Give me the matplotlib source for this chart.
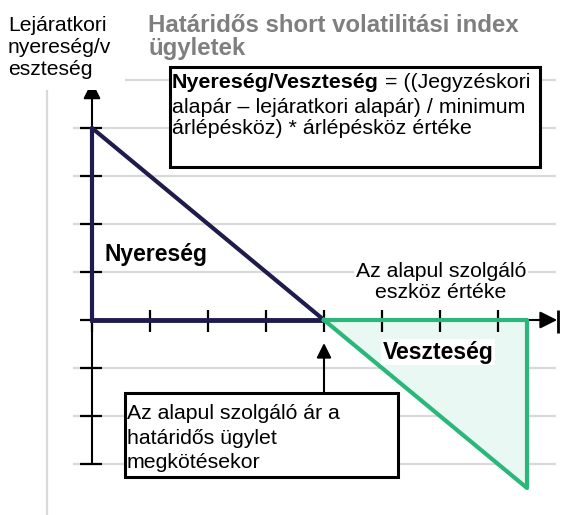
import matplotlib
matplotlib.use('Agg')
import matplotlib.pyplot as plt
from matplotlib.patches import Rectangle

plt.rcParams['font.family'] = ['Liberation Sans', 'DejaVu Sans']

## Diagram data (units = tick steps)
x_ticks = [0, 1, 2, 3, 4, 5, 6, 7]
y_ticks = [4, 3, 2, 1, 0, -1, -2, -3]
grid_y = [5, 4, 3, 2, 1, -1, -2, -3]
profit_x = [0, 4]
profit_y = [4, 0]
loss_x = [4, 7.5]
loss_y = [0, -3.5]

title_lines = "Határidős short volatilitási index\nügyletek"
ylabel_text = "Lejáratkori\nnyereség/v\neszteség"
xlabel_text = "Az alapul szolgáló\neszköz értéke"
formula_bold = "Nyereség/Veszteség"
formula_rest = " = ((Jegyzéskori"
formula_more = "alapár – lejáratkori alapár) / minimum\nárlépésköz) * árlépésköz értéke"
entry_text = "Az alapul szolgáló ár a\nhatáridős ügylet\nmegkötésekor"

navy = '#1f1b4d'
green = '#2bb77a'
mint = '#e9f8f2'
grid_c = '#d9d9d9'

W, H = 567, 515
fig = plt.figure(figsize=(W / 100, H / 100), dpi=100)
ax = fig.add_axes([0, 0, 1, 1])
ax.axis('off')
# origin at pixel (92, 320), 58 px per x step, 48 px per y step
ax.set_xlim(-92 / 58, (W - 92) / 58)
ax.set_ylim(-(H - 320) / 48, 320 / 48)


def fp(px, py):
    # pixel (top-left origin) -> figure fraction
    return px / W, 1 - py / H


# grid + left frame line
ax.hlines(grid_y, -0.33, 8.0, color=grid_c, lw=1.6, zorder=1)
ax.vlines(-0.78, -4.1, 4.85, color=grid_c, lw=1.6, zorder=1)
fig.patches.append(Rectangle(fp(0, 90), 125 / W, 90 / H, transform=fig.transFigure,
                             facecolor='white', edgecolor='none', zorder=1.5))

# loss area
ax.fill([loss_x[0], loss_x[1], loss_x[1]], [loss_y[0], loss_y[0], loss_y[1]],
        color=mint, zorder=2, lw=0)

# axes with arrows
arrow_kw = dict(arrowstyle='-|>', color='black', lw=1.5, mutation_scale=26,
                shrinkA=0, shrinkB=0)
ax.annotate('', xy=(0, 4.97), xytext=(0, -3), zorder=3, arrowprops=arrow_kw)
ax.annotate('', xy=(8.02, 0), xytext=(7.5, 0), zorder=3, arrowprops=arrow_kw)
ax.vlines(8.04, -0.27, 0.21, color='black', lw=2, zorder=3)

# tick marks
ax.hlines(y_ticks, -0.21, 0.17, color='black', lw=1.6, zorder=3)
ax.vlines(x_ticks, -0.25, 0.21, color='black', lw=1.6, zorder=3)

# payoff lines
ax.plot([0, 0], [0, profit_y[0]], color=navy, lw=3, zorder=4, solid_capstyle='butt')
ax.plot([0, profit_x[1]], [0, 0], color=navy, lw=3.5, zorder=4)
ax.plot(profit_x, profit_y, color=navy, lw=3, zorder=4)
ax.plot([loss_x[0], loss_x[1], loss_x[1], loss_x[0]],
        [loss_y[0], loss_y[0], loss_y[1], loss_y[0]], color=green, lw=3, zorder=4)

# entry price arrow
ax.annotate('', xy=(4.0, -0.48), xytext=(4.0, -1.52), zorder=3,
            arrowprops=dict(arrowstyle='-|>', color='black', lw=1.5,
                            mutation_scale=22, shrinkA=0, shrinkB=0))

# texts
fig.text(*fp(148, 14), title_lines, color='#7f7f7f', fontsize=17.3, fontweight='bold',
         va='top', ha='left', linespacing=1.0)
fig.text(*fp(8, 16), ylabel_text, fontsize=15.2, va='top', ha='left', linespacing=1.2)
fig.text(*fp(104, 255), "Nyereség", fontsize=16.5, fontweight='bold', va='center', ha='left',
         bbox=dict(facecolor='white', edgecolor='none', pad=2), zorder=5)
fig.text(*fp(441, 282), xlabel_text, fontsize=15.3, va='center', ha='center',
         linespacing=1.13, bbox=dict(facecolor='white', edgecolor='none', pad=1), zorder=5)
fig.text(*fp(438, 352), "Veszteség", fontsize=16.5, fontweight='bold', va='center', ha='center',
         bbox=dict(facecolor='white', edgecolor='none', pad=1), zorder=5)

# formula box
fig.patches.append(Rectangle(fp(170, 167), 370 / W, 100 / H, transform=fig.transFigure,
                             facecolor='white', edgecolor='black', lw=2.2, zorder=5))
t1 = fig.text(*fp(172, 83), formula_bold, fontsize=15.4, fontweight='bold',
              va='center', ha='left', zorder=6)
fig.canvas.draw()
bb = t1.get_window_extent(fig.canvas.get_renderer())
fig.text(bb.x1 / W, 1 - 83 / H, formula_rest, fontsize=15.4, va='center', ha='left', zorder=6)
fig.text(*fp(172, 118), formula_more, fontsize=15.4, va='center', ha='left',
         linespacing=1.1, zorder=6)

# entry price box
fig.patches.append(Rectangle(fp(125, 477), 273 / W, 84 / H, transform=fig.transFigure,
                             facecolor='white', edgecolor='black', lw=2.2, zorder=5))
fig.text(*fp(127, 438), entry_text, fontsize=15.3, va='center', ha='left',
         linespacing=1.35, zorder=6)

plt.savefig('out.png', dpi=100)
